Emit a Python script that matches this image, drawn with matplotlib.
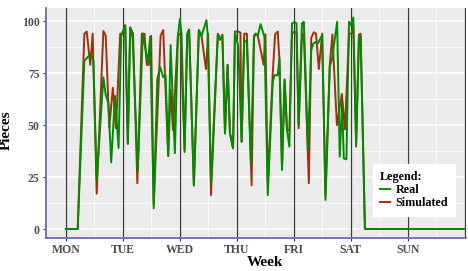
import matplotlib
matplotlib.use("Agg")
import matplotlib.pyplot as plt
import numpy as np

# Data: hours since Monday 00:00 and pieces produced
day_labels = ["MON", "TUE", "WED", "THU", "FRI", "SAT", "SUN"]

real_hours = [0, 5.0, 7.8, 10.6, 11.6, 13.0, 15.8, 16.8, 17.9, 19.1, 20.7, 22.2, 23.3,
              25.0, 26.1, 27.1, 28.1, 30.3, 32.4, 34.5, 35.5, 37.0, 38.5, 39.7, 41.0,
              42.0, 43.1, 44.1, 45.9, 47.2, 48.0, 48.7, 50.0, 51.1, 51.9, 53.9, 56.0,
              57.1, 59.2, 59.7, 61.1, 64.0, 64.9, 65.9, 67.0, 68.1, 69.1, 70.4, 71.2,
              72.6, 74.0, 75.1, 76.2, 77.9, 79.2, 79.9, 80.8, 82.0, 83.6, 85.0, 87.1,
              87.8, 89.2, 89.9, 91.0, 92.1, 93.1, 94.1, 95.2, 96.2, 97.1, 98.0, 99.4,
              100.2, 101.9, 103.3, 104.2, 105.1, 106.1, 107.9, 109.3, 111.1, 112.1,
              114.2, 115.3, 116.3, 117.0, 118.1, 119.2, 120.1, 121.0, 122.2, 123.4,
              124.1, 125.9, 168]
real_pieces = [0, 0, 81, 84.5, 81, 23.5, 73, 64.5, 60.5, 32, 64, 39, 93,
               98, 41, 97, 92, 28, 94, 80, 92.5, 10, 72, 78, 73,
               74, 35.6, 88.5, 36.5, 93, 101, 94, 37, 93, 96, 21, 95.7,
               92.8, 100.5, 94, 22, 93.7, 91.7, 93, 46, 79, 46, 38.8, 94.9,
               87.7, 42, 90.9, 90, 31.6, 93, 94, 93, 98.6, 92.5, 16.3, 70.8,
               74, 74, 82, 28.4, 71.6, 47.6, 39.6, 98.9, 99.6, 99, 50, 99,
               99.7, 38, 86, 89.3, 90, 89.3, 93.3, 14, 78, 82,
               99.7, 34.8, 61.2, 34, 33.5, 99.7, 98, 101.8, 39.6, 92.8,
               92, 0, 0]

sim_hours = [0, 5.0, 7.8, 8.8, 10.3, 11.3, 13.0, 15.8, 16.8, 18.3, 19.8, 21.1, 22.9,
             24.1, 25.0, 26.1, 27.1, 28.3, 30.1, 32.0, 33.1, 34.1, 34.9, 35.9, 37.0,
             39.9, 41.0, 43.1, 44.1, 45.1, 47.2, 48.3, 50.0, 51.1, 51.9, 53.9, 56.0,
             57.1, 59.0, 59.9, 61.1, 64.0, 64.9, 65.9, 67.0, 68.1, 69.1, 70.4, 71.2,
             72.6, 73.5, 74.0, 75.1, 76.2, 78.2, 79.2, 79.9, 80.8, 83.3, 84.0, 85.0,
             87.1, 88.1, 89.2, 89.9, 91.0, 92.1, 93.1, 94.1, 95.2, 96.2, 97.1, 98.0,
             99.4, 100.2, 102.3, 103.3, 104.4, 105.3, 106.5, 107.9, 109.3, 111.1,
             112.2, 114.1, 116.2, 117.5, 119.2, 120.3, 121.0, 122.2, 123.4, 124.1,
             125.9, 168]
sim_pieces = [0, 0, 94, 95, 79, 94, 17, 95.3, 93, 49, 68, 48.5, 94,
              94, 98, 41, 97, 94, 22, 94, 94, 79, 79, 93, 12,
              93, 95.7, 35, 67, 47.6, 93.5, 94, 38, 94, 96, 21, 95.7,
              93, 77, 94, 16.3, 94, 91, 93.5, 46, 79, 46, 39, 95,
              95, 94.5, 42, 94, 94, 21, 92, 94, 93, 79, 93.7, 22,
              75, 93.7, 95, 82, 30, 72, 47.6, 47.6, 94, 95, 94.5, 48.5,
              93, 94, 22, 92, 94.7, 94, 77, 94, 16, 79,
              93.6, 50, 65, 48, 94, 94, 98, 42, 93.5, 94,
              0, 0]

serif = ["Liberation Serif", "DejaVu Serif"]

fig = plt.figure(figsize=(4.68, 2.71), dpi=100)
ax = fig.add_axes([0.098, 0.122, 0.898, 0.848])
ax.set_facecolor("#EBEBEB")

day_ticks = np.arange(len(day_labels)) * 24
ax.set_xlim(-8.4, 168.5)
ax.set_ylim(-4.3, 106.3)
ax.set_xticks(day_ticks)
ax.set_xticks(day_ticks + 12, minor=True)
ax.set_yticks([0, 25, 50, 75, 100])
ax.set_yticks([12.5, 37.5, 62.5, 87.5], minor=True)
ax.grid(which="major", color="white", linewidth=1.1)
ax.grid(which="minor", color="white", linewidth=0.55)
ax.set_axisbelow(True)

# day separators
for d in list(day_ticks) + [168]:
    ax.axvline(d, color="#3a3a3a", linewidth=0.9, zorder=1.5)

ax.plot(sim_hours, sim_pieces, color="#A0300E", linewidth=1.4, label="Simulated", zorder=2)
ax.plot(real_hours, real_pieces, color="#008B00", linewidth=1.4, label="Real", zorder=3)

ax.set_xticklabels(day_labels, fontfamily=serif, fontweight="bold", fontsize=8.5, color="#4D4D4D")
ax.set_yticklabels(["0", "25", "50", "75", "100"], fontfamily=serif, fontweight="bold",
                   fontsize=8.5, color="#4D4D4D")
ax.tick_params(which="major", length=2.5, color="#333333", pad=2)
ax.tick_params(which="minor", length=0)

for s in ["top", "right"]:
    ax.spines[s].set_visible(False)
for s in ["left", "bottom"]:
    ax.spines[s].set_color("#6B6BB8")
    ax.spines[s].set_linewidth(1.3)

ax.set_xlabel("Week", fontfamily=serif, fontweight="bold", fontsize=11)
ax.set_ylabel("Pieces", fontfamily=serif, fontweight="bold", fontsize=11)
ax.xaxis.set_label_coords(0.522, -0.078)
ax.yaxis.set_label_coords(-0.078, 0.47)

handles, labels = ax.get_legend_handles_labels()
lgnd = ax.legend(handles[::-1], labels[::-1], title="Legend:", loc="upper left",
                 bbox_to_anchor=(0.779, 0.322), frameon=True, fancybox=False,
                 edgecolor="white", facecolor="white", framealpha=1,
                 prop={"family": serif, "weight": "bold", "size": 8.7},
                 handlelength=0.8, handletextpad=0.5, labelspacing=0.1,
                 borderpad=0.55, borderaxespad=0)
lgnd.get_title().set_fontfamily(serif)
lgnd.get_title().set_fontweight("bold")
lgnd.get_title().set_fontsize(8.7)
lgnd._legend_box.align = "left"

plt.savefig("out.png", dpi=100)
